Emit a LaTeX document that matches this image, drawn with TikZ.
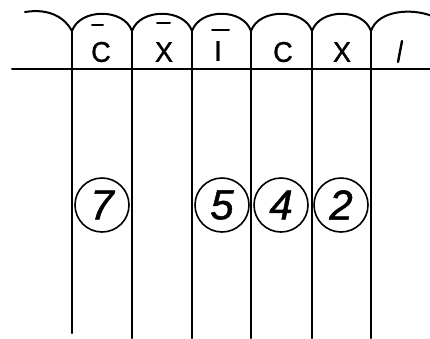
\documentclass[tikz,border=0pt]{standalone}
\usepackage{fontspec}
\setmainfont{Liberation Sans}
\newfontfamily\handfont[FakeBold=1.2]{Liberation Sans}
\begin{document}
\begin{tikzpicture}[x=1pt,y=-1pt,line cap=round,line join=round,
  ink/.style={line width=2pt,black},
  lbl/.style={font=\handfont\fontsize{30}{30}\selectfont,inner sep=0pt,xscale=0.9,yscale=0.95},
  bar/.style={line width=2pt},
  num/.style={circle,draw,line width=1.6pt,minimum size=54pt,inner sep=0pt,font=\handfont\itshape\fontsize{42}{42}\selectfont}]
\useasboundingbox (0,0) rectangle (430,338);
% vertical lines
\foreach \x/\b in {72/333,132/338,192/338,251/338,312/338,371/338}
  \draw[ink] (\x,30) -- (\x,\b);
% horizontal line
\draw[ink] (12,69) -- (430,69);
% arcs
\draw[ink] (25,12) .. controls (50,8) and (65,18) .. (72,31);
\foreach \a/\b in {72/132,132/192,192/251,251/312,312/371}
  \draw[ink] (\a,31) .. controls (\a+8,8) and (\b-8,8) .. (\b,31);
\draw[ink] (371,31) .. controls (378,10) and (412,8) .. (432,16);
% labels
\node[lbl] (c1) at (101,52) {C};
\draw[bar] (92,25) -- (103,25);
\node[lbl] (x1) at (164,52) {X};
\draw[bar] (157,23) -- (170,23);
\node[lbl] (i1) at (218,51) {I};
\draw[bar] (212,30) -- (229,30);
\node[lbl] (c2) at (283,52) {C};
\node[lbl] (x2) at (342,52) {X};
\draw[ink,line width=2.4pt] (402,41) -- (398,62);
% circled numbers
\node[num] (n7) at (102,205) {7};
\node[num] (n5) at (222,205) {5};
\node[num] (n4) at (281,205) {4};
\node[num] (n2) at (341,205) {2};
\end{tikzpicture}
\end{document}
